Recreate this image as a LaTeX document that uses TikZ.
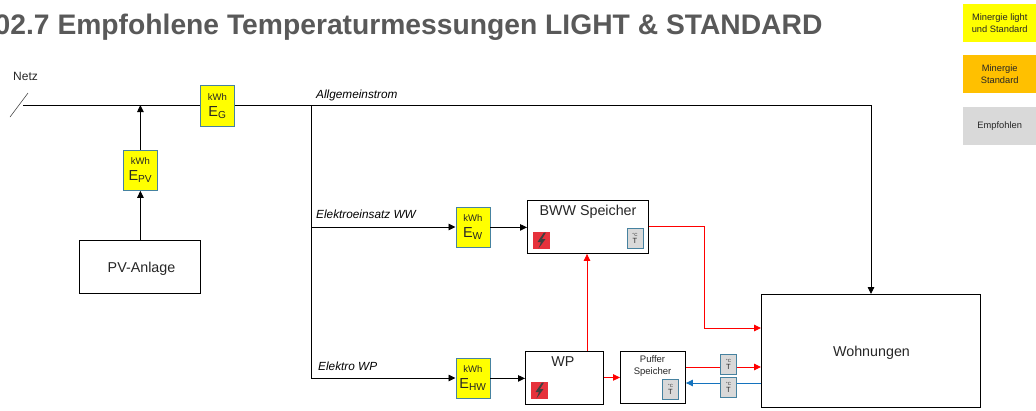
\documentclass[tikz,border=0pt]{standalone}
\usepackage{fontspec}
\setmainfont{Liberation Sans}
\usetikzlibrary{arrows.meta,calc}

\definecolor{mngelb}{RGB}{255,255,0}
\definecolor{mnorange}{RGB}{255,192,0}
\definecolor{mngrau}{RGB}{217,217,217}
\definecolor{rahmen}{RGB}{70,130,160}
\definecolor{rot}{RGB}{255,0,0}
\definecolor{blau}{RGB}{20,115,190}
\definecolor{blitz}{RGB}{230,50,60}
\definecolor{schrift}{RGB}{38,38,38}

\newcommand{\kwh}[1]{{\fontsize{9.5}{10}\selectfont kWh}\\[4pt]{\fontsize{14.5}{13}\selectfont E\textsubscript{#1}}}
\newcommand{\tsym}{{\fontsize{4.5}{5}\selectfont °C}\\T}

\begin{document}
\begin{tikzpicture}[
    x=1pt, y=-1pt,
    box/.style={draw=black, line width=0.9pt, inner sep=0pt, align=center, text=schrift, anchor=north west},
    mess/.style={draw=rahmen, fill=mngelb, line width=0.8pt, minimum width=34pt, minimum height=40pt, inner sep=0pt, align=center, text=schrift, anchor=north west},
    leg/.style={minimum width=73pt, minimum height=38pt, inner sep=0pt, align=center, font=\fontsize{9.3}{11.5}\selectfont, text=schrift, anchor=north west},
    tfuehl/.style={draw=rahmen, fill=mngrau, line width=0.8pt, minimum width=16pt, minimum height=20pt, inner sep=0pt, align=center, text=schrift, font=\fontsize{7.5}{7}\selectfont},
    flash/.style={fill=blitz, minimum width=17pt, minimum height=17pt, inner sep=0pt},
    titel/.style={font=\fontsize{14.3}{16}\selectfont, text=schrift, inner sep=0pt},
    lbl/.style={font=\fontsize{11.8}{13}\selectfont\itshape, text=black, anchor=west, inner sep=0pt},
    lin/.style={line width=0.9pt, black},
    arr/.style={-{Triangle[length=7pt,width=6.5pt]}, line width=0.9pt, black},
    rarr/.style={-{Triangle[length=7pt,width=6.5pt]}, line width=0.9pt, rot},
    barr/.style={-{Triangle[length=7pt,width=6.5pt]}, line width=0.9pt, blau}
]
\useasboundingbox (0,0) rectangle (1036,410);
\clip (0,0) rectangle (1036,410);

\node[anchor=west, inner sep=0pt, font=\bfseries\fontsize{28.25}{30}\selectfont, text=black!65] (head) at (-5.5,27) {02.7 Empfohlene Temperaturmessungen LIGHT \& STANDARD};

\node[leg, fill=mngelb] (legA) at (963,4) {Minergie light\\und Standard};
\node[leg, fill=mnorange] (legB) at (963,55) {Minergie\\Standard};
\node[leg, fill=mngrau] (legC) at (963,106.5) {Empfohlen};

\node[anchor=west, inner sep=0pt, font=\fontsize{12}{14}\selectfont, text=schrift] (netz) at (13,76.5) {Netz};
\coordinate (schnittA) at (10,117);
\coordinate (schnittB) at (28,93);
\coordinate (netzL) at (23,105);
\draw[line width=0.6pt, black!70] (schnittA) -- (schnittB);

\node[mess, minimum height=41pt] (eg) at (200,85) {\kwh{G}};
\node[mess] (epv) at (123,150) {\kwh{PV}};
\node[mess] (ew) at (455.5,207) {\kwh{W}};
\node[mess] (ehw) at (455.5,358) {\kwh{HW}};

\node[box, minimum width=121pt, minimum height=53pt] (pv) at (79,240) {};
\node[titel] (pvtxt) at (141.5,269) {PV-Anlage};
\node[box, minimum width=121pt, minimum height=53pt] (bww) at (527,200) {};
\node[titel] (bwwtxt) at (588,212) {BWW Speicher};
\node[box, minimum width=78pt, minimum height=53pt] (wp) at (525,351) {};
\node[titel] (wptxt) at (563,362) {WP};
\node[box, minimum width=65pt, minimum height=52pt] (puffer) at (620,351) {};
\node[font=\fontsize{9.5}{12.5}\selectfont, text=schrift, align=center, inner sep=0pt] (puffertxt) at (652.5,366) {Puffer\\Speicher};
\node[box, minimum width=219pt, minimum height=113pt] (whg) at (761,294) {};
\node[titel] (whgtxt) at (871.5,353) {Wohnungen};

\node[flash] (flashA) at (541.5,240.5) {};
\node[flash] (flashB) at (539.5,390.5) {};
\foreach \n in {flashA,flashB}
  \fill[black!75] ($(\n)+(2.5,-8)$) -- ($(\n)+(-4,1.5)$) -- ($(\n)+(-0.5,1.5)$) -- ($(\n)+(-3,8)$) -- ($(\n)+(4,-1.5)$) -- ($(\n)+(0.5,-1.5)$) -- ($(\n)+(4.5,-8)$) -- cycle;

\node[tfuehl] (tA) at (635,238.5) {\tsym};
\node[tfuehl] (tB) at (670.5,389) {\tsym};
\node[tfuehl] (tC) at (728.5,364) {\tsym};
\node[tfuehl] (tD) at (728.5,387) {\tsym};

\node[lbl] (lallg) at (316,95.5) {Allgemeinstrom};
\node[lbl] (lew) at (316,214.5) {Elektroeinsatz WW};
\node[lbl] (lwp) at (318,366) {Elektro WP};

\coordinate (abzw) at (311,105);
\coordinate (abzwW) at (311,227);
\coordinate (abzwWP) at (311,378);
\coordinate (ecke) at (871,105);
\coordinate (rueckA) at (704,226);
\coordinate (rueckB) at (704,328);
\coordinate (hoch) at (587,300);
\coordinate (vor) at (0,367);
\coordinate (ruecklauf) at (0,383);

\draw[lin] (netzL) -- (eg.west |- netzL);
\draw[lin] (eg.east |- abzw) -- (abzw);
\draw[arr] (abzw) -- (ecke) -- (ecke |- whg.north);
\draw[arr] (pv.north -| epv) -- (epv);
\draw[arr] (epv) -- (epv |- abzw);
\draw[lin] (abzw) -- (abzwWP);
\draw[arr] (abzwW) -- (abzwW -| ew.west);
\draw[arr] (abzwWP) -- (abzwWP -| ehw.west);
\draw[arr] (ew) -- (ew -| bww.west);
\draw[arr] (ehw) -- (ehw -| wp.west);
\draw[rarr] (hoch |- wp.north) -- (hoch |- bww.south);
\draw[rarr] (bww.east |- rueckA) -- (rueckA) -- (rueckB) -- (whg.west |- rueckB);
\draw[rarr] (wp.east |- puffer) -- (puffer.west);
\draw[lin, rot] (puffer.east |- vor) -- (tC.west |- vor);
\draw[rarr] (tC.east |- vor) -- (whg.west |- vor);
\draw[lin, blau] (whg.west |- ruecklauf) -- (tD.east |- ruecklauf);
\draw[barr] (tD.west |- ruecklauf) -- (puffer.east |- ruecklauf);
\end{tikzpicture}
\end{document}
